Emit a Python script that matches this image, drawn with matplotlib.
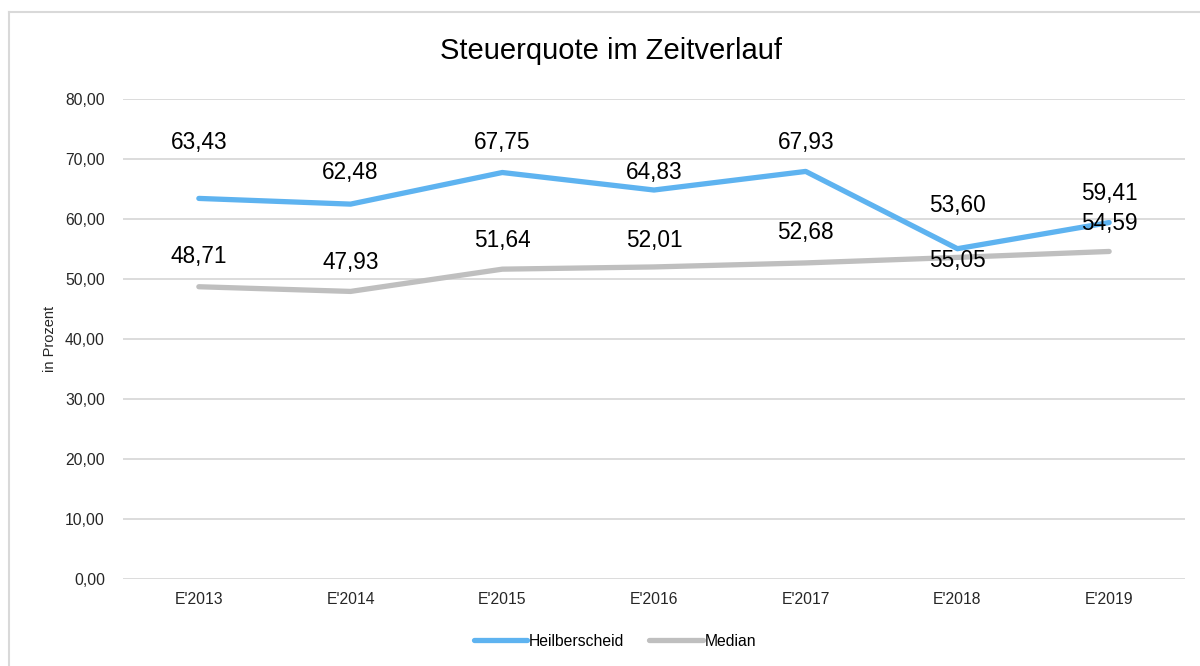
import matplotlib.pyplot as plt
from matplotlib.lines import Line2D

plt.rcParams['font.family'] = ['Liberation Sans', 'DejaVu Sans']

kategorien = ["E'2013", "E'2014", "E'2015", "E'2016", "E'2017", "E'2018", "E'2019"]
heilberscheid = [63.43, 62.48, 67.75, 64.83, 67.93, 55.05, 59.41]
median = [48.71, 47.93, 51.64, 52.01, 52.68, 53.60, 54.59]

# Lage der Datenbeschriftungen (in Werteinheiten), wie im Original verschoben
label_y_heil = [72.7, 67.7, 72.7, 67.7, 72.7, 53.0, 64.3]
label_y_med = [53.7, 52.7, 56.5, 56.5, 57.7, 62.2, 59.3]

blau = '#5EB3F0'
grau = '#BFBFBF'


def de(v):
    return f'{v:.2f}'.replace('.', ',')


fig = plt.figure(figsize=(12, 6.66), dpi=100)
ax = fig.add_axes([123 / 1200, 1 - 579 / 666, (1185 - 123) / 1200, (579 - 99) / 666])

x = range(len(kategorien))
ax.plot(x, median, color=grau, lw=3.8, solid_capstyle='round', zorder=3)
ax.plot(x, heilberscheid, color=blau, lw=3.8, solid_capstyle='round', zorder=4)

for i in x:
    ax.text(i, label_y_heil[i], de(heilberscheid[i]), ha='center', va='center',
            fontsize=16.3, color='#000000', zorder=5)
    ax.text(i, label_y_med[i], de(median[i]), ha='center', va='center',
            fontsize=16.3, color='#000000', zorder=5)

ax.set_xlim(-0.5, len(kategorien) - 0.5)
ax.set_ylim(0, 80)
ax.set_yticks(range(0, 81, 10))
ax.set_yticklabels([de(v) for v in range(0, 81, 10)])
ax.set_xticks(list(x))
ax.set_xticklabels(kategorien)
ax.tick_params(axis='both', length=0, labelsize=11.3, colors='#262626')
ax.tick_params(axis='y', pad=13)
ax.tick_params(axis='x', pad=9)
ax.grid(axis='y', color='#D9D9D9', lw=1.3)
ax.set_axisbelow(True)
for s in ax.spines.values():
    s.set_visible(False)

ax.set_ylabel('in Prozent', fontsize=10.5, color='#262626', labelpad=6)

fig.text(611 / 1200, 1 - 51 / 666, 'Steuerquote im Zeitverlauf', ha='center', va='center',
         fontsize=21, color='#000000')

handles = [Line2D([], [], color=blau, lw=3.8, solid_capstyle='round'),
           Line2D([], [], color=grau, lw=3.8, solid_capstyle='round')]
fig.legend(handles, ['Heilberscheid', 'Median'], loc='center', bbox_to_anchor=(615 / 1200, 1 - 641 / 666),
           ncol=2, frameon=False, fontsize=11.3, handlelength=3.4, handletextpad=0.1,
           columnspacing=1.6)

# Rahmen des Diagrammbereichs
fig.add_artist(Line2D([9 / 1200, 9 / 1200], [0, 1 - 12 / 666], color='#D9D9D9', lw=1.5,
                      transform=fig.transFigure))
fig.add_artist(Line2D([9 / 1200, 1], [1 - 12 / 666, 1 - 12 / 666], color='#D9D9D9', lw=1.5,
                      transform=fig.transFigure))

fig.savefig('out.png', dpi=100)
